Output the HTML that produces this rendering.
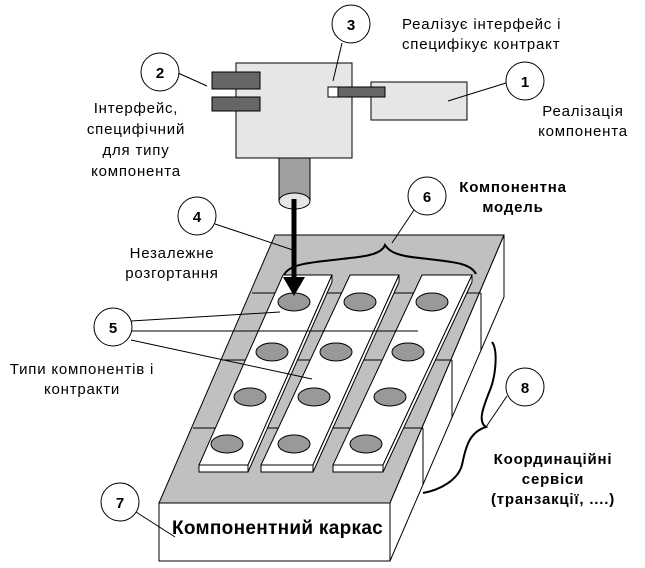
<!DOCTYPE html>
<html><head><meta charset="utf-8"><style>
html,body{margin:0;padding:0;background:#fff;}
svg{display:block;}
text{font-family:"Liberation Sans",sans-serif;font-size:15px;letter-spacing:0.8px;fill:#000;}
.b{font-weight:bold;}
</style></head><body>
<svg width="645" height="568" viewBox="0 0 645 568" xmlns="http://www.w3.org/2000/svg">
<!-- base block -->
<polygon points="275,235 504,235 390,503 159,503" fill="#c0c0c0" stroke="#000" stroke-width="1"/>
<polygon points="504,235 504,297 390,561 390,503" fill="#fff" stroke="#000" stroke-width="1"/>
<rect x="159" y="503" width="231" height="58" fill="#fff" stroke="#000" stroke-width="1"/>
<!-- step lines -->
<g stroke="#000" stroke-width="1" fill="none">
<line x1="252" y1="293" x2="481" y2="293"/>
<line x1="481" y1="293" x2="481" y2="350"/>
<line x1="222" y1="360" x2="452" y2="360"/>
<line x1="452" y1="360" x2="452" y2="418"/>
<line x1="193" y1="428" x2="423" y2="428"/>
<line x1="423" y1="428" x2="423" y2="485"/>
</g>
<!-- strips -->
<g fill="#fff" stroke="#000" stroke-width="1">
<polygon points="283,275 332,275 248,465 199,465"/>
<polygon points="199,465 248,465 248,472 199,472"/>
<polygon points="332,275 332,282 248,472 248,465"/>
<polygon points="350,275 399,275 313,465 261,465"/>
<polygon points="261,465 313,465 313,472 261,472"/>
<polygon points="399,275 399,282 313,472 313,465"/>
<polygon points="422,275 472,275 383,465 333,465"/>
<polygon points="333,465 383,465 383,472 333,472"/>
<polygon points="472,275 472,282 383,472 383,465"/>
</g>
<g fill="#999" stroke="#000" stroke-width="1">
<ellipse cx="294" cy="302" rx="16" ry="9"/><ellipse cx="360" cy="302" rx="16" ry="9"/><ellipse cx="432" cy="302" rx="16" ry="9"/>
<ellipse cx="272" cy="352" rx="16" ry="9"/><ellipse cx="336" cy="352" rx="16" ry="9"/><ellipse cx="408" cy="352" rx="16" ry="9"/>
<ellipse cx="250" cy="397" rx="16" ry="9"/><ellipse cx="314" cy="397" rx="16" ry="9"/><ellipse cx="390" cy="397" rx="16" ry="9"/>
<ellipse cx="227" cy="444" rx="16" ry="9"/><ellipse cx="294" cy="444" rx="16" ry="9"/><ellipse cx="366" cy="444" rx="16" ry="9"/>
</g>
<!-- braces -->
<path d="M284,275 C290,262 320,262 350,258 C370,256 382,253 385,245 C390,253 400,256 420,258 C450,262 470,262 476,274" fill="none" stroke="#000" stroke-width="2"/>
<path d="M492,342 C498,350 496,375 490,390 C482,410 478,422 486,427 C470,432 466,445 462,465 C458,480 440,490 423,493" fill="none" stroke="#000" stroke-width="2"/>
<!-- top component -->
<rect x="236" y="63" width="116" height="95" fill="#e6e6e6" stroke="#000"/>
<rect x="212" y="72" width="48" height="17" fill="#666" stroke="#000"/>
<rect x="212" y="97" width="48" height="14" fill="#666" stroke="#000"/>
<rect x="371" y="82" width="96" height="38" fill="#e6e6e6" stroke="#000"/>
<rect x="328" y="87" width="10" height="10" fill="#fff" stroke="#000"/>
<rect x="338" y="87" width="47" height="10" fill="#666" stroke="#000"/>
<rect x="279" y="158" width="31" height="43" fill="#a0a0a0" stroke="#000"/>
<ellipse cx="294.5" cy="201" rx="15.5" ry="8" fill="#e6e6e6" stroke="#000"/>
<!-- arrow -->
<line x1="294" y1="199" x2="294" y2="280" stroke="#000" stroke-width="5"/>
<polygon points="283,277 305,277 294,296" fill="#000"/>
<!-- leader lines -->
<g stroke="#000" stroke-width="1" fill="none">
<line x1="506" y1="83" x2="448" y2="101"/>
<line x1="178" y1="73" x2="207" y2="86"/>
<line x1="342" y1="43" x2="333" y2="81"/>
<line x1="215" y1="224" x2="293" y2="250"/>
<line x1="414" y1="210" x2="392" y2="243"/>
<line x1="131" y1="321" x2="280" y2="312"/>
<line x1="132" y1="331" x2="418" y2="331"/>
<line x1="131" y1="340" x2="312" y2="379"/>
<line x1="136" y1="512" x2="175" y2="537"/>
<line x1="507" y1="396" x2="486" y2="427"/>
</g>
<!-- circles -->
<g fill="#fff" stroke="#000" stroke-width="1">
<circle cx="525" cy="81" r="19"/><circle cx="160" cy="72" r="19"/><circle cx="351" cy="24" r="19"/>
<circle cx="197" cy="216" r="19"/><circle cx="427" cy="196" r="19"/><circle cx="113" cy="327" r="19"/>
<circle cx="120" cy="502" r="19"/><circle cx="525" cy="387" r="19"/>
</g>
<g text-anchor="middle">
<text x="525" y="87" class="b" style="letter-spacing:0">1</text><text x="160" y="78" class="b" style="letter-spacing:0">2</text><text x="351" y="30" class="b" style="letter-spacing:0">3</text>
<text x="197" y="222" class="b" style="letter-spacing:0">4</text><text x="427" y="202" class="b" style="letter-spacing:0">6</text><text x="113" y="333" class="b" style="letter-spacing:0">5</text>
<text x="120" y="508" class="b" style="letter-spacing:0">7</text><text x="525" y="393" class="b" style="letter-spacing:0">8</text>
</g>
<!-- labels -->
<text x="402" y="29">Реалізує інтерфейс і</text>
<text x="402" y="49">специфікує контракт</text>
<g text-anchor="middle">
<text x="583" y="116">Реалізація</text>
<text x="583" y="136">компонента</text>
<text x="136" y="113">Інтерфейс,</text>
<text x="136" y="134">специфічний</text>
<text x="136" y="155">для типу</text>
<text x="136" y="176">компонента</text>
<text x="172" y="258">Незалежне</text>
<text x="172" y="278">розгортання</text>
<text x="82" y="374">Типи компонентів і</text>
<text x="82" y="394">контракти</text>
<text x="513" y="192" class="b">Компонентна</text>
<text x="513" y="212" class="b">модель</text>
<text x="553" y="464" class="b">Координаційні</text>
<text x="553" y="484" class="b">сервіси</text>
<text x="553" y="504" class="b">(транзакції, ....)</text>
</g>
<text x="172" y="534" class="b" style="font-size:19px;letter-spacing:0.3px">Компонентний каркас</text>
</svg>
</body></html>
